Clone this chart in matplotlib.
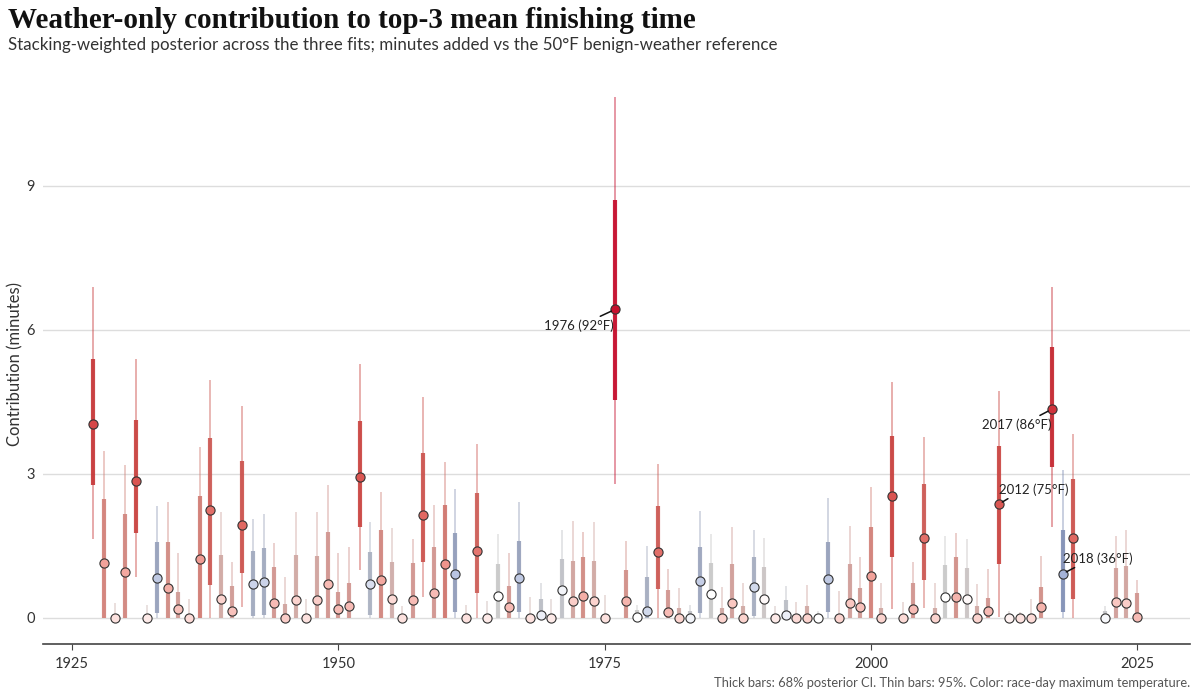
import numpy as np
import matplotlib
matplotlib.use('Agg')
import matplotlib.pyplot as plt
from matplotlib.colors import LinearSegmentedColormap

# ---- data ----
years = [1927, 1928, 1929, 1930, 1931, 1932, 1933, 1934, 1935, 1936,
         1937, 1938, 1939, 1940, 1941, 1942, 1943, 1944, 1945, 1946,
         1947, 1948, 1949, 1950, 1951, 1952, 1953, 1954, 1955, 1956,
         1957, 1958, 1959, 1960, 1961, 1962, 1963, 1964, 1965, 1966,
         1967, 1968, 1969, 1970, 1971, 1972, 1973, 1974, 1975, 1976,
         1977, 1978, 1979, 1980, 1981, 1982, 1983, 1984, 1985, 1986,
         1987, 1988, 1989, 1990, 1991, 1992, 1993, 1994, 1995, 1996,
         1997, 1998, 1999, 2000, 2001, 2002, 2003, 2004, 2005, 2006,
         2007, 2008, 2009, 2010, 2011, 2012, 2013, 2014, 2015, 2016,
         2017, 2018, 2019, 2022, 2023, 2024, 2025]

mean = [4.04, 1.14, 0.00, 0.96, 2.85, 0.00, 0.84, 0.63, 0.18, 0.00,
        1.23, 2.25, 0.40, 0.15, 1.94, 0.71, 0.75, 0.31, 0.00, 0.37,
        0.00, 0.37, 0.70, 0.19, 0.25, 2.93, 0.70, 0.79, 0.39, 0.00,
        0.38, 2.15, 0.52, 1.13, 0.92, 0.00, 1.40, 0.00, 0.46, 0.22,
        0.83, 0.00, 0.07, 0.00, 0.58, 0.36, 0.46, 0.36, 0.00, 6.43,
        0.36, 0.02, 0.15, 1.37, 0.13, 0.00, 0.00, 0.77, 0.50, 0.00,
        0.31, 0.00, 0.65, 0.40, 0.00, 0.07, 0.00, 0.00, 0.00, 0.81,
        0.00, 0.31, 0.22, 0.88, 0.00, 2.55, 0.00, 0.19, 1.67, 0.00,
        0.44, 0.44, 0.40, 0.00, 0.14, 2.37, 0.00, 0.00, 0.00, 0.22,
        4.35, 0.92, 1.67, 0.00, 0.33, 0.31, 0.03]

lo68 = [2.78, 0.00, 0.00, 0.00, 1.78, 0.00, 0.10, 0.00, 0.00, 0.00,
        0.00, 0.69, 0.00, 0.00, 0.93, 0.04, 0.06, 0.00, 0.00, 0.00,
        0.00, 0.00, 0.00, 0.00, 0.00, 1.90, 0.06, 0.00, 0.00, 0.00,
        0.00, 1.17, 0.00, 0.00, 0.13, 0.00, 0.52, 0.00, 0.00, 0.00,
        0.13, 0.00, 0.00, 0.00, 0.00, 0.00, 0.00, 0.00, 0.00, 4.55,
        0.00, 0.00, 0.00, 0.60, 0.00, 0.00, 0.00, 0.10, 0.00, 0.00,
        0.00, 0.00, 0.05, 0.00, 0.00, 0.00, 0.00, 0.00, 0.00, 0.12,
        0.00, 0.00, 0.00, 0.00, 0.00, 1.27, 0.00, 0.00, 0.80, 0.00,
        0.00, 0.00, 0.00, 0.00, 0.00, 1.13, 0.00, 0.00, 0.00, 0.00,
        3.15, 0.13, 0.40, 0.00, 0.00, 0.00, 0.00]

hi68 = [5.40, 2.47, 0.08, 2.17, 4.13, 0.06, 1.58, 1.58, 0.54, 0.08,
        2.54, 3.75, 1.31, 0.67, 3.27, 1.40, 1.46, 1.06, 0.30, 1.31,
        0.06, 1.29, 1.79, 0.54, 0.73, 4.10, 1.38, 1.83, 1.17, 0.06,
        1.15, 3.44, 1.48, 2.35, 1.77, 0.06, 2.60, 0.06, 1.12, 0.67,
        1.60, 0.06, 0.40, 0.06, 1.23, 1.19, 1.27, 1.19, 0.06, 8.70,
        1.00, 0.17, 0.85, 2.33, 0.58, 0.20, 0.15, 1.48, 1.15, 0.20,
        1.12, 0.25, 1.27, 1.06, 0.06, 0.38, 0.06, 0.24, 0.05, 1.58,
        0.06, 1.12, 0.63, 1.90, 0.20, 3.80, 0.06, 0.73, 2.80, 0.20,
        1.10, 1.27, 1.05, 0.24, 0.42, 3.58, 0.05, 0.05, 0.06, 0.65,
        5.65, 1.83, 2.90, 0.15, 1.05, 1.08, 0.52]

lo95 = [1.65, 0.00, 0.00, 0.00, 0.85, 0.00, 0.00, 0.00, 0.00, 0.00,
        0.00, 0.00, 0.00, 0.00, 0.23, 0.00, 0.00, 0.00, 0.00, 0.00,
        0.00, 0.00, 0.00, 0.00, 0.00, 1.00, 0.00, 0.00, 0.00, 0.00,
        0.00, 0.44, 0.00, 0.00, 0.00, 0.00, 0.00, 0.00, 0.00, 0.00,
        0.00, 0.00, 0.00, 0.00, 0.00, 0.00, 0.00, 0.00, 0.00, 2.80,
        0.00, 0.00, 0.00, 0.00, 0.00, 0.00, 0.00, 0.00, 0.00, 0.00,
        0.00, 0.00, 0.00, 0.00, 0.00, 0.00, 0.00, 0.00, 0.00, 0.00,
        0.00, 0.00, 0.00, 0.00, 0.00, 0.18, 0.00, 0.00, 0.20, 0.00,
        0.00, 0.00, 0.00, 0.00, 0.00, 0.02, 0.00, 0.00, 0.00, 0.00,
        1.90, 0.00, 0.00, 0.00, 0.00, 0.00, 0.00]

hi95 = [6.90, 3.48, 0.31, 3.19, 5.40, 0.28, 2.33, 2.41, 1.35, 0.40,
        3.57, 4.96, 2.20, 1.16, 4.42, 2.06, 2.17, 1.56, 0.86, 2.21,
        0.40, 2.21, 2.77, 1.35, 1.48, 5.30, 2.00, 2.63, 1.87, 0.24,
        1.64, 4.60, 2.35, 3.25, 2.69, 0.27, 3.63, 0.35, 1.75, 1.35,
        2.42, 0.43, 0.72, 0.40, 1.83, 2.02, 1.79, 2.00, 0.48, 10.85,
        1.60, 0.28, 1.50, 3.20, 1.02, 0.62, 0.27, 2.23, 1.75, 0.64,
        1.90, 0.72, 1.83, 1.67, 0.25, 0.67, 0.34, 0.68, 0.14, 2.50,
        0.56, 1.92, 1.27, 2.73, 0.73, 4.92, 0.34, 1.17, 3.77, 0.73,
        1.71, 1.77, 1.65, 0.71, 1.02, 4.73, 0.15, 0.13, 0.39, 1.30,
        6.90, 3.08, 3.83, 0.25, 1.71, 1.83, 0.80]

# race-day max temperature (F)
temp_f = [80, 64, 54, 63, 76, 53, 40, 62, 59, 55,
          65, 71, 56, 59, 72, 42, 42, 60, 57, 56,
          54, 57, 60, 60, 60, 75, 44, 63, 55, 54,
          60, 72, 60, 66, 39, 54, 70, 53, 50, 60,
          40, 54, 47, 53, 48, 57, 62, 56, 54, 92,
          61, 50, 43, 71, 60, 56, 48, 41, 50, 56,
          58, 56, 43, 51, 53, 47, 55, 56, 50, 40,
          56, 58, 59, 64, 56, 76, 55, 60, 71, 56,
          50, 61, 51, 56, 60, 75, 52, 54, 55, 61,
          86, 36, 72, 49, 58, 57, 60]

labelled = {1976: 92, 2017: 86, 2012: 75, 2018: 36}

# ---- colours ----
t_lo, t_hi = 30, 92
stops = [(30, '#7f93c8'), (50, '#ffffff'), (56, '#fbd3ce'), (64, '#f2a29a'),
         (74, '#dc5a55'), (86, '#d0343c'), (92, '#c8102e')]
cmap = LinearSegmentedColormap.from_list(
    'temp', [((t - t_lo) / (t_hi - t_lo), c) for t, c in stops])

def pt_color(t):
    return np.array(cmap((t - t_lo) / (t_hi - t_lo))[:3])

def bar_color(t):
    # bars are a greyer / deeper version of the marker colour
    c = pt_color(t)
    return np.clip(c - 0.21 * c.min(), 0, 1)

# ---- figure ----
plt.rcParams['font.family'] = ['Lato', 'DejaVu Sans']
fig = plt.figure(figsize=(12, 7), dpi=100)
ax = fig.add_axes([0.036, 0.08, 0.956, 0.80])

for i, yr in enumerate(years):
    bc = bar_color(temp_f[i])
    ax.plot([yr, yr], [lo95[i], hi95[i]], color=bc, alpha=0.5, lw=1.2,
            solid_capstyle='butt', zorder=2)
    ax.plot([yr, yr], [lo68[i], hi68[i]], color=bc, alpha=0.92, lw=3.0,
            solid_capstyle='butt', zorder=3)
    ax.plot(yr, mean[i], 'o', ms=6.6, mfc=pt_color(temp_f[i]), mec='#333333',
            mew=0.8, zorder=4)

# annotations
ann = {1976: ((-1, -7), 'right', 'top', (0.72, 1.0)),
       2017: ((0, -6.5), 'right', 'top', (0.75, 1.0)),
       2012: ((0, 6), 'left', 'bottom', (0.2, 0.0)),
       2018: ((0, 6.5), 'left', 'bottom', (0.25, 0.0))}
for yr, tf in labelled.items():
    i = years.index(yr)
    off, ha, va, rp = ann[yr]
    ax.annotate(f'{yr} ({tf}°F)', xy=(yr, mean[i]), xytext=off,
                textcoords='offset points', ha=ha, va=va, fontsize=9.5,
                color='#222222', zorder=5,
                arrowprops=dict(arrowstyle='-', color='#111111', lw=1.1,
                                relpos=rp, shrinkA=0, shrinkB=3))

ax.set_xlim(1922.3, 2030)
ax.set_ylim(-0.542, 11.125)
ax.set_xticks([1925, 1950, 1975, 2000, 2025])
ax.set_yticks([0, 3, 6, 9])
ax.grid(axis='y', color='#dddddd', lw=1)
ax.set_axisbelow(True)
for s in ['top', 'right', 'left']:
    ax.spines[s].set_visible(False)
ax.spines['bottom'].set_color('#444444')
ax.spines['bottom'].set_linewidth(1.2)
ax.tick_params(axis='y', length=0, labelsize=10.5, labelcolor='#333333', pad=6)
ax.tick_params(axis='x', length=4, color='#444444', labelsize=10.5,
               labelcolor='#333333', pad=5)
ax.set_ylabel('Contribution (minutes)', fontsize=12, color='#333333', labelpad=2)

fig.text(0.007, 0.96, 'Weather-only contribution to top-3 mean finishing time',
         fontsize=21, fontweight='bold', family='Liberation Serif', color='#111111')
fig.text(0.007, 0.928, 'Stacking-weighted posterior across the three fits; minutes '
         'added vs the 50°F benign-weather reference', fontsize=12.2, color='#333333')
fig.text(0.992, 0.018, 'Thick bars: 68% posterior CI. Thin bars: 95%. Color: '
         'race-day maximum temperature.', fontsize=9.3, color='#555555', ha='right')

fig.savefig('out.png', dpi=100)
